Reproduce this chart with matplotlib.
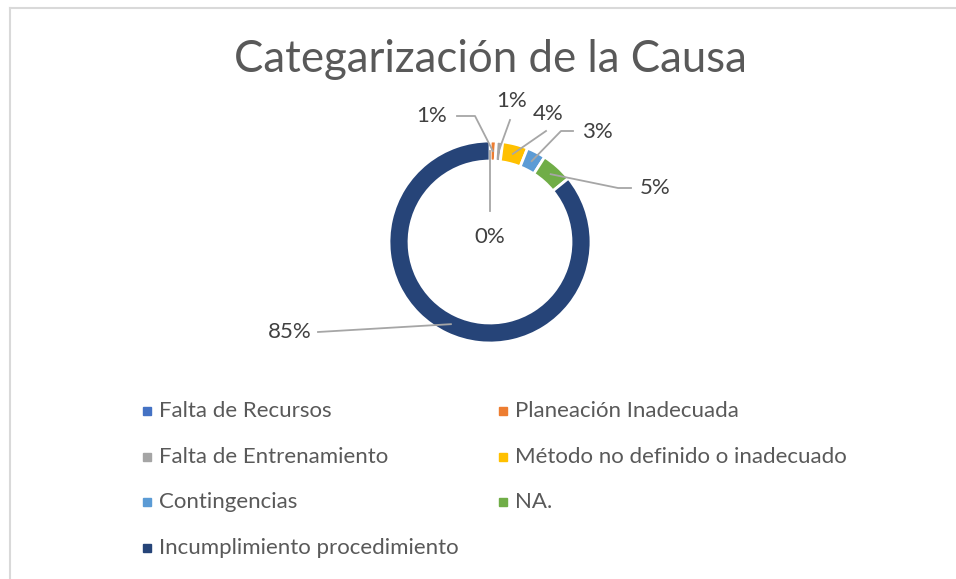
import numpy as np
import matplotlib.pyplot as plt
from matplotlib.patches import Rectangle

# data
categories = ['Falta de Recursos', 'Planeación Inadecuada', 'Falta de Entrenamiento',
              'Método no definido o inadecuado', 'Contingencias', 'NA.',
              'Incumplimiento procedimiento']
percent = [0, 1, 1, 4, 3, 5, 85]
colors = ['#4472C4', '#ED7D31', '#A5A5A5', '#FFC000', '#5B9BD5', '#70AD47', '#264478']

W, H = 956, 579
cx, cy = 490, 242      # donut center (pixels from top-left)
R, ring = 101, 20

plt.rcParams['font.family'] = ['Lato', 'DejaVu Sans']

fig = plt.figure(figsize=(W / 100, H / 100), dpi=100)
ax = fig.add_axes([0, 0, 1, 1])

def Y(py):
    return H - py

wedges, _ = ax.pie(percent, colors=colors, startangle=90, counterclock=False,
                   radius=R, center=(cx, Y(cy)),
                   wedgeprops=dict(width=ring, edgecolor='white', linewidth=2))
ax.set_xlim(0, W)
ax.set_ylim(0, H)
ax.set_aspect('auto')
ax.axis('off')

# chart border (light gray, open on the right/bottom)
ax.plot([10, W + 5], [Y(7.5), Y(7.5)], color='#D9D9D9', lw=1.5, clip_on=False)
ax.plot([10, 10], [Y(7.5), -5], color='#D9D9D9', lw=1.5, clip_on=False)

ax.text(cx, Y(60), 'Categarización de la Causa', ha='center', va='center',
        fontsize=31.5, color='#595959')

# data labels: text position and leader-line elbow points (pixels)
label_pos = [(490, 237), (432, 116), (512, 101), (548, 114), (597, 132), (655, 188), (290, 332)]
leader = [[(490, 211)],
          [(457, 116), (475, 116)],
          [(510, 120)],
          [(546, 131)],
          [(573, 131), (561, 131)],
          [(631, 188), (618, 188)],
          [(318, 332)]]

rmid = R - ring / 2
for w, p, pos, pts in zip(wedges, percent, label_pos, leader):
    ang = np.deg2rad((w.theta1 + w.theta2) / 2)
    ax_ = cx + rmid * np.cos(ang)
    ay_ = Y(cy) + rmid * np.sin(ang)
    xs = [q[0] for q in pts] + [ax_]
    ys = [Y(q[1]) for q in pts] + [ay_]
    ax.plot(xs, ys, color='#A6A6A6', lw=1.3, zorder=3)
    ax.text(pos[0], Y(pos[1]), f'{p}%', ha='center', va='center',
            fontsize=16, color='#404040')

# legend, two columns filled row by row
for i, (name, c) in enumerate(zip(categories, colors)):
    col, row = i % 2, i // 2
    x0 = 143 + col * 356
    y0 = 411 + row * 45.7
    ax.add_patch(Rectangle((x0, Y(y0) - 4), 8, 8, color=c))
    ax.text(x0 + 16, Y(y0), name, ha='left', va='center', fontsize=16, color='#595959')

fig.savefig('out.png', dpi=100)
